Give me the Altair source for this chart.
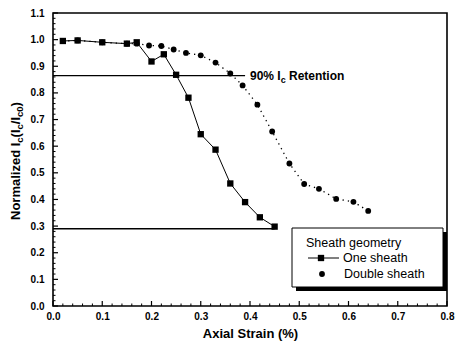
import altair as alt
import pandas as pd

# ---- data ----
one_x = [0.02, 0.05, 0.10, 0.15, 0.17, 0.20, 0.225, 0.25, 0.275, 0.30, 0.33, 0.36, 0.39, 0.42, 0.45]
one_y = [0.995, 0.997, 0.990, 0.985, 0.990, 0.918, 0.945, 0.868, 0.782, 0.645, 0.587, 0.460, 0.390, 0.333, 0.298]

dbl_x = [0.02, 0.05, 0.10, 0.15, 0.17, 0.195, 0.22, 0.245, 0.27, 0.30, 0.33, 0.36, 0.385, 0.415,
         0.445, 0.48, 0.51, 0.54, 0.575, 0.61, 0.64]
dbl_y = [0.995, 0.997, 0.990, 0.985, 0.985, 0.978, 0.976, 0.963, 0.950, 0.941, 0.914, 0.873, 0.828, 0.756,
         0.655, 0.535, 0.458, 0.440, 0.402, 0.391, 0.357]

ref_y = [0.865, 0.29]
ref_x_end = [0.39, 0.45]

x_major = [0.0, 0.1, 0.2, 0.3, 0.4, 0.5, 0.6, 0.7, 0.8]
x_minor = [0.02, 0.04, 0.06, 0.08, 0.12, 0.14, 0.16, 0.18, 0.22, 0.24, 0.26, 0.28, 0.32, 0.34, 0.36, 0.38,
           0.42, 0.44, 0.46, 0.48, 0.52, 0.54, 0.56, 0.58, 0.62, 0.64, 0.66, 0.68, 0.72, 0.74, 0.76, 0.78]
y_major = [0.0, 0.1, 0.2, 0.3, 0.4, 0.5, 0.6, 0.7, 0.8, 0.9, 1.0, 1.1]
y_minor = [0.02, 0.04, 0.06, 0.08, 0.12, 0.14, 0.16, 0.18, 0.22, 0.24, 0.26, 0.28, 0.32, 0.34, 0.36, 0.38,
           0.42, 0.44, 0.46, 0.48, 0.52, 0.54, 0.56, 0.58, 0.62, 0.64, 0.66, 0.68, 0.72, 0.74, 0.76, 0.78,
           0.82, 0.84, 0.86, 0.88, 0.92, 0.94, 0.96, 0.98, 1.02, 1.04, 1.06, 1.08]

ann_parts = ["90% I", "c", "Retention"]
legend_title = "Sheath geometry"
legend_labels = ["One sheath", "Double sheath"]
ytitle_parts = ["Normalized I", "c", "(I", "c", "/I", "c0", ")"]
x_title = "Axial Strain (%)"

W, H = 394, 293
FONT = "Liberation Sans"

xscale = alt.Scale(domain=[0, 0.8], nice=False, zero=False)
yscale = alt.Scale(domain=[0, 1.1], nice=False, zero=False)
xaxis = alt.Axis(values=x_major, format=".1f", ticks=False, domain=False, grid=False, title=x_title,
                 labelFont=FONT, labelFontWeight="bold", labelFontSize=10, labelPadding=5,
                 titleFont=FONT, titleFontWeight="bold", titleFontSize=13, titlePadding=6,
                 labelColor="black", titleColor="black", labelFlush=False)
yaxis = alt.Axis(values=y_major, format=".1f", ticks=False, domain=False, grid=False, title=None,
                 labelFont=FONT, labelFontWeight="bold", labelFontSize=10, labelPadding=9,
                 labelColor="black", labelFlush=False)


def X(f):
    return alt.X(f, type="quantitative", scale=xscale, axis=xaxis)


def Y(f):
    return alt.Y(f, type="quantitative", scale=yscale, axis=yaxis)


one_df = pd.DataFrame({"x": one_x, "y": one_y})
dbl_df = pd.DataFrame({"x": dbl_x, "y": dbl_y})
ref_df = pd.DataFrame({"x0": [0.0, 0.0], "x1": ref_x_end, "y": ref_y})

ref_lines = alt.Chart(ref_df).mark_rule(color="black", strokeWidth=1.3).encode(
    x=X("x0"), x2="x1", y=Y("y"))

one_line = alt.Chart(one_df).mark_line(color="black", strokeWidth=1).encode(x=X("x"), y=Y("y"))
one_pts = alt.Chart(one_df).mark_point(shape="square", filled=True, size=40, color="black", opacity=1).encode(
    x=X("x"), y=Y("y"))
dbl_line = alt.Chart(dbl_df).mark_line(color="black", strokeWidth=1.3, strokeDash=[1.3, 4]).encode(
    x=X("x"), y=Y("y"))
dbl_pts = alt.Chart(dbl_df).mark_circle(size=34, color="black", opacity=1).encode(x=X("x"), y=Y("y"))

# inward ticks
xmaj = alt.Chart(pd.DataFrame({"x": x_major})).mark_rule(color="black", strokeWidth=1.2).encode(
    x=X("x"), y=alt.value(H), y2=alt.value(H - 5))
xmin = alt.Chart(pd.DataFrame({"x": x_minor})).mark_rule(color="black", strokeWidth=1).encode(
    x=X("x"), y=alt.value(H), y2=alt.value(H - 2.5))
ymaj = alt.Chart(pd.DataFrame({"y": y_major})).mark_rule(color="black", strokeWidth=1.2).encode(
    y=Y("y"), x=alt.value(0), x2=alt.value(5))
ymin = alt.Chart(pd.DataFrame({"y": y_minor})).mark_rule(color="black", strokeWidth=1).encode(
    y=Y("y"), x=alt.value(0), x2=alt.value(2.5))

# annotation "90% Ic Retention"
ann_df = pd.DataFrame({"x": [0.40], "y": [ref_y[0]]})
ann1 = alt.Chart(ann_df).mark_text(text=ann_parts[0], align="left", baseline="middle", font=FONT,
                                   fontWeight="bold", fontSize=12, color="black").encode(x=X("x"), y=Y("y"))
ann2 = alt.Chart(ann_df).mark_text(text=ann_parts[1], align="left", baseline="middle", font=FONT,
                                   fontWeight="bold", fontSize=9, dx=30.7, dy=4, color="black").encode(
    x=X("x"), y=Y("y"))
ann3 = alt.Chart(ann_df).mark_text(text=ann_parts[2], align="left", baseline="middle", font=FONT,
                                   fontWeight="bold", fontSize=12, dx=39, color="black").encode(
    x=X("x"), y=Y("y"))

# custom legend
one = pd.DataFrame({"a": [0]})
shadow = alt.Chart(one).mark_rect(color="black").encode(
    x=alt.value(243), x2=alt.value(394), y=alt.value(219), y2=alt.value(278))
box = alt.Chart(one).mark_rect(fill="white", stroke="black", strokeWidth=1).encode(
    x=alt.value(239), x2=alt.value(390), y=alt.value(215), y2=alt.value(274))
lg_title = alt.Chart(one).mark_text(text=legend_title, align="left", baseline="middle", font=FONT,
                                    fontSize=12.5, color="black").encode(x=alt.value(253), y=alt.value(230))
lg_line = alt.Chart(one).mark_rule(color="black", strokeWidth=1).encode(
    x=alt.value(255), x2=alt.value(286), y=alt.value(245))
lg_sq = alt.Chart(one).mark_point(shape="square", filled=True, size=40, color="black", opacity=1).encode(
    x=alt.value(268), y=alt.value(245))
lg_t1 = alt.Chart(one).mark_text(text=legend_labels[0], align="left", baseline="middle", font=FONT,
                                 fontSize=12.5, color="black").encode(x=alt.value(290), y=alt.value(245))
lg_ci = alt.Chart(one).mark_circle(size=34, color="black", opacity=1).encode(x=alt.value(269), y=alt.value(261))
lg_t2 = alt.Chart(one).mark_text(text=legend_labels[1], align="left", baseline="middle", font=FONT,
                                 fontSize=12.5, color="black").encode(x=alt.value(291), y=alt.value(261))

# rotated y title with subscripts
ty_x, ty_y = -37, 207
offs = [0, 77.3, 82.6, 90.5, 95.8, 103.0, 113.6]
sizes = [13, 9.5, 13, 9.5, 13, 9.5, 13]
dys = [0, 4, 0, 4, 0, 4, 0]
ytitle_layers = []
for txt, o, s, d in zip(ytitle_parts, offs, sizes, dys):
    ytitle_layers.append(
        alt.Chart(one).mark_text(text=txt, align="left", baseline="middle", angle=270, font=FONT,
                                 fontWeight="bold", fontSize=s, dx=o, dy=d, color="black").encode(
            x=alt.value(ty_x), y=alt.value(ty_y)))

chart = alt.layer(
    ref_lines, one_line, dbl_line, dbl_pts, one_pts, xmaj, xmin, ymaj, ymin,
    ann1, ann2, ann3, shadow, box, lg_title, lg_line, lg_sq, lg_t1, lg_ci, lg_t2, *ytitle_layers
).properties(
    width=W, height=H,
    autosize=alt.AutoSizeParams(type="none"),
    padding={"left": 45, "top": 5, "right": 8, "bottom": 38},
    background="white",
).configure_view(stroke="black", strokeWidth=1.6)

chart.save("out.html", embed_options={"renderer": "svg", "actions": False})
